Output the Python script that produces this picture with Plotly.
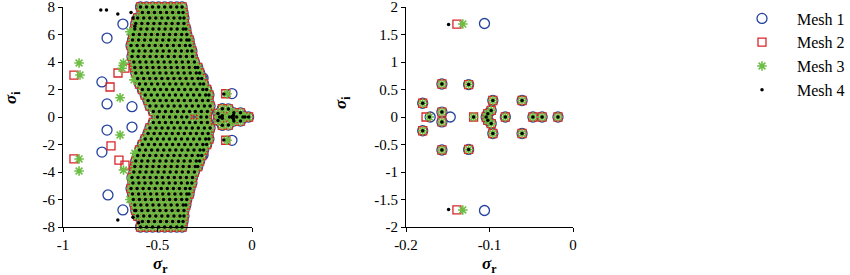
import plotly.graph_objects as go

# ---------------- data ----------------
# Dense converged band (upper half, sigma_i >= 0); eigenvalues come in conjugate pairs
band_levels = [8.0, 7.6, 7.2, 6.8, 6.4, 6.0, 5.6, 5.2, 4.8, 4.4, 4.0, 3.6, 3.2, 2.8, 2.4,
               2.0, 1.6, 1.2, 0.8, 0.4, 0.0]
band_rows = [
    [-0.59, -0.558, -0.526, -0.494, -0.462, -0.43, -0.398, -0.37],
    [-0.58, -0.548, -0.516, -0.484, -0.452, -0.42, -0.388, -0.365],
    [-0.605, -0.573, -0.541, -0.509, -0.477, -0.445, -0.413, -0.381, -0.36],
    [-0.615, -0.583, -0.551, -0.519, -0.487, -0.455, -0.423, -0.391, -0.36],
    [-0.62, -0.588, -0.556, -0.524, -0.492, -0.46, -0.428, -0.396, -0.364, -0.35],
    [-0.628, -0.596, -0.564, -0.532, -0.5, -0.468, -0.436, -0.404, -0.372, -0.345],
    [-0.632, -0.6, -0.568, -0.536, -0.504, -0.472, -0.44, -0.408, -0.376, -0.345, -0.333],
    [-0.64, -0.608, -0.576, -0.544, -0.512, -0.48, -0.448, -0.416, -0.384, -0.352, -0.328],
    [-0.63, -0.598, -0.566, -0.534, -0.502, -0.47, -0.438, -0.406, -0.374, -0.342, -0.318],
    [-0.635, -0.603, -0.571, -0.539, -0.507, -0.475, -0.443, -0.411, -0.379, -0.347, -0.315],
    [-0.625, -0.593, -0.561, -0.529, -0.497, -0.465, -0.433, -0.401, -0.369, -0.337, -0.305],
    [-0.62, -0.588, -0.556, -0.524, -0.492, -0.46, -0.428, -0.396, -0.364, -0.332, -0.3, -0.287],
    [-0.615, -0.583, -0.551, -0.519, -0.487, -0.455, -0.423, -0.391, -0.359, -0.327, -0.295, -0.277],
    [-0.605, -0.573, -0.541, -0.509, -0.477, -0.445, -0.413, -0.381, -0.349, -0.317, -0.285, -0.266],
    [-0.595, -0.563, -0.531, -0.499, -0.467, -0.435, -0.403, -0.371, -0.339, -0.307, -0.275, -0.256],
    [-0.58, -0.548, -0.516, -0.484, -0.452, -0.42, -0.388, -0.356, -0.324, -0.292, -0.26, -0.24],
    [-0.565, -0.533, -0.501, -0.469, -0.437, -0.405, -0.373, -0.341, -0.309, -0.277, -0.245, -0.228],
    [-0.55, -0.518, -0.486, -0.454, -0.422, -0.39, -0.358, -0.326, -0.294, -0.262, -0.232],
    [-0.54, -0.508, -0.476, -0.444, -0.412, -0.38, -0.348, -0.316, -0.284, -0.252, -0.222],
    [-0.522, -0.49, -0.458, -0.426, -0.394, -0.362, -0.33, -0.3, -0.268, -0.236],
    [-0.5, -0.468, -0.436, -0.404, -0.372, -0.345, -0.27, -0.24],
]

# Near-origin eigenvalues shared by all meshes
tip_r = [-0.180, -0.180, -0.157, -0.157, -0.125, -0.125, -0.157, -0.157, -0.096, -0.096,
         -0.061, -0.061, -0.098, -0.098, -0.102, -0.102, -0.104, -0.081, -0.048, -0.037, -0.018]
tip_i = [0.25, -0.25, 0.60, -0.60, 0.59, -0.59, 0.09, -0.09, 0.30, -0.30,
         0.30, -0.30, 0.12, -0.12, 0.06, -0.06, 0.0, 0.0, 0.0, 0.0, 0.0]

# Mesh-specific eigenvalues
mesh1_r = [-0.171, -0.147, -0.106, -0.106,
           -0.767, -0.683, -0.603, -0.582, -0.794, -0.767, -0.635, -0.55, -0.487, -0.434,
           -0.344, -0.336, -0.33, -0.326, -0.259,
           -0.762, -0.683, -0.603, -0.582, -0.794, -0.767, -0.635, -0.55, -0.487, -0.434,
           -0.344, -0.336, -0.33, -0.326, -0.259]
mesh1_i = [0.0, 0.0, 1.70, -1.70,
           5.74, 6.76, 7.05, 7.9, 2.55, 0.95, 0.75, 1.25, 0.29, 0.15,
           5.6, 5.2, 4.8, 4.4, 2.84,
           -5.67, -6.76, -7.05, -7.5, -2.55, -0.95, -0.73, -1.24, -0.29, -0.15,
           -5.1, -4.8, -4.6, -4.3, -2.76]

mesh2_r = [-0.176, -0.119, -0.139, -0.139,
           -0.942, -0.751, -0.709, -0.672, -0.619, -0.582, -0.593, -0.603, -0.434,
           -0.942, -0.746, -0.704, -0.672, -0.59, -0.595, -0.45]
mesh2_i = [0.0, 0.0, 1.69, -1.69,
           3.05, 2.18, 3.2, 3.56, 4.15, 4.65, 5.4, 4.0, 7.9,
           -3.05, -2.1, -3.13, -3.5, -4.0, -4.9, -7.9]

mesh3_r = [-0.172, -0.119, -0.132, -0.132,
           -0.915, -0.91, -0.698, -0.68, -0.688, -0.646, -0.624, -0.635, -0.63,
           -0.915, -0.915, -0.698, -0.68, -0.62, -0.646, -0.64]
mesh3_i = [0.0, 0.0, 1.69, -1.69,
           3.93, 3.05, 1.4, 3.93, 3.55, 6.2, 2.7, 4.4, 4.9,
           -3.05, -3.93, -1.31, -3.86, -2.64, -6.0, -4.5]

mesh4_r = [-0.172, -0.119, -0.149, -0.149,
           -0.80, -0.77, -0.71, -0.63, -0.62, -0.64,
           -0.71, -0.62, -0.63, -0.60]
mesh4_i = [0.0, 0.0, 1.68, -1.68,
           7.78, 7.78, 7.5, 7.2, 6.6, 7.6,
           -7.5, -6.8, -7.3, -7.7]

names = ["Mesh 1", "Mesh 2", "Mesh 3", "Mesh 4"]
x_ticks_left = [-1, -0.5, 0]
x_ticktext_left = ["-1", "-0.5", "0"]
y_ticks_left = [-8, -6, -4, -2, 0, 2, 4, 6, 8]
y_ticktext_left = ["-8", "-6", "-4", "-2", "0", "2", "4", "6", "8"]
x_ticks_right = [-0.2, -0.1, 0]
x_ticktext_right = ["-0.2", "-0.1", "0"]
y_ticks_right = [-2, -1.5, -1, -0.5, 0, 0.5, 1, 1.5, 2]
y_ticktext_right = ["-2", "-1.5", "-1", "-0.5", "0", "0.5", "1", "1.5", "2"]

# ---------------- build ----------------
band_r, band_i = [], []
for lev, row in zip(band_levels, band_rows):
    for v in row:
        band_r.append(v)
        band_i.append(lev)
        if lev > 0:
            band_r.append(v)
            band_i.append(-lev)

common_r = band_r + tip_r
common_i = band_i + tip_i

series_r = [common_r + mesh1_r, common_r + mesh2_r, common_r + mesh3_r, common_r + mesh4_r]
series_i = [common_i + mesh1_i, common_i + mesh2_i, common_i + mesh3_i, common_i + mesh4_i]

markers = [
    dict(symbol="circle-open", size=10, color="#23419E", line=dict(width=1.3, color="#23419E")),
    dict(symbol="square-open", size=8, color="#D8262A", line=dict(width=1.3, color="#D8262A")),
    dict(symbol="asterisk-open", size=8, color="#6DBE45", line=dict(width=1.6, color="#6DBE45")),
    dict(symbol="circle", size=3.5, color="#000000", line=dict(width=0)),
]

fig = go.Figure()
for k in range(4):
    fig.add_trace(go.Scatter(x=series_r[k], y=series_i[k], mode="markers", name=names[k],
                             marker=markers[k], cliponaxis=False,
                             xaxis="x", yaxis="y"))
for k in range(4):
    fig.add_trace(go.Scatter(x=series_r[k], y=series_i[k], mode="markers", name=names[k],
                             marker=markers[k], cliponaxis=True,
                             showlegend=False, xaxis="x2", yaxis="y2"))

W, H = 850, 275
font = "Liberation Serif"
axis_common = dict(showline=True, linecolor="black", linewidth=1.2, ticks="outside",
                   ticklen=4, tickcolor="black", showgrid=False, zeroline=False,
                   ticklabeloverflow="allow", automargin=False,
                   tickfont=dict(family=font, size=15, color="black"))
ytop, ybot = 1 - 7 / H, 1 - 227 / H

fig.update_layout(
    width=W, height=H, margin=dict(l=0, r=0, t=0, b=0, autoexpand=False),
    paper_bgcolor="white", plot_bgcolor="white",
    font=dict(family=font, color="black"),
    xaxis=dict(domain=[63 / W, 252 / W], range=[-1, 0], tickvals=x_ticks_left,
               ticktext=x_ticktext_left, anchor="y", **axis_common),
    yaxis=dict(domain=[ybot, ytop], range=[-8, 8], tickvals=y_ticks_left,
               ticktext=y_ticktext_left, anchor="x", **axis_common),
    xaxis2=dict(domain=[406 / W, 573 / W], range=[-0.2, 0], tickvals=x_ticks_right,
                ticktext=x_ticktext_right, anchor="y2", **axis_common),
    yaxis2=dict(domain=[ybot, ytop], range=[-2, 2], tickvals=y_ticks_right,
                ticktext=y_ticktext_right, anchor="x2", **axis_common),
    legend=dict(x=727 / W, y=1 - 1.5 / H, xanchor="left", yanchor="top",
                font=dict(family=font, size=16, color="black"),
                itemwidth=60, bgcolor="rgba(0,0,0,0)"),
    showlegend=True,
)

title_font = dict(family=font, size=17, color="black")
ann = [
    dict(x=160 / W, y=1 - 265 / H, text="<b><i>σ</i></b><sub><b>r</b></sub>"),
    dict(x=490 / W, y=1 - 265 / H, text="<b><i>σ</i></b><sub><b>r</b></sub>"),
    dict(x=12 / W, y=1 - 98 / H, text="<b><i>σ</i></b><sub><b>i</b></sub>", textangle=-90),
    dict(x=342 / W, y=1 - 103 / H, text="<b><i>σ</i></b><sub><b>i</b></sub>", textangle=-90),
]
for a in ann:
    fig.add_annotation(xref="paper", yref="paper", showarrow=False, font=title_font,
                       xanchor="center", yanchor="middle", **a)

fig.write_html("out.html", config={"displayModeBar": False},
               post_script="document.body.style.margin='0px';document.body.style.overflow='hidden';")
